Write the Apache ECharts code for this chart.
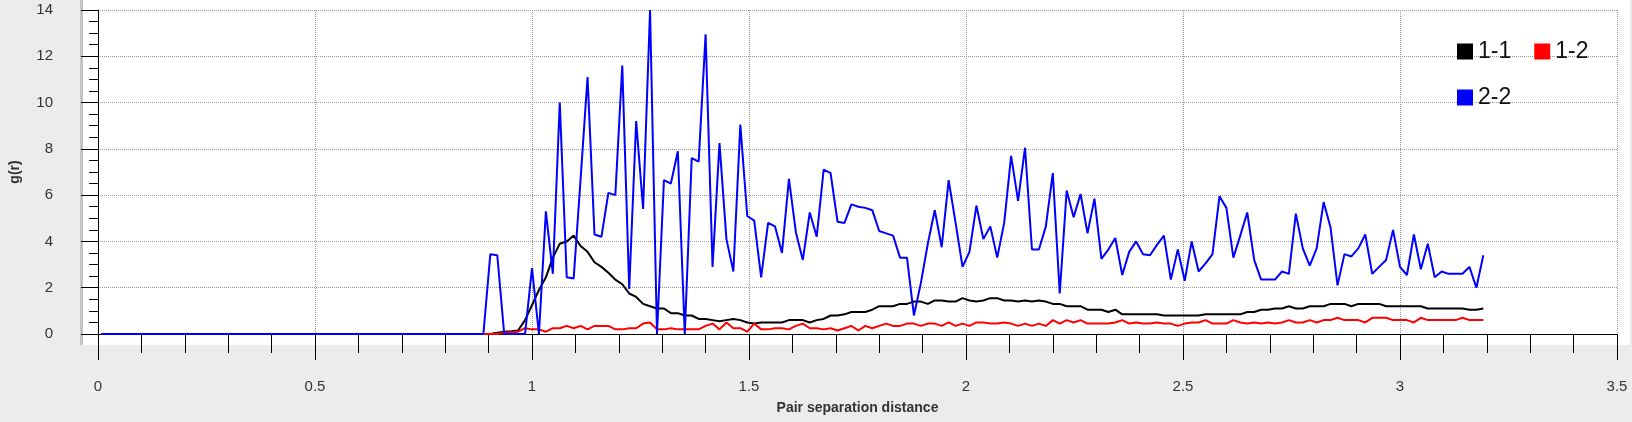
<!DOCTYPE html>
<html>
<head>
<meta charset="utf-8">
<script src="https://cdn.jsdelivr.net/npm/echarts@6/dist/echarts.min.js"></script>
<style>
  html, body { margin: 0; padding: 0; background: #ececec; }
  #chart { width: 1632px; height: 422px; }
</style>
</head>
<body>
<div id="chart"></div>
<script>
// g(r) histogram, 200 bins of width 0.016
const binWidth = 0.016;

const g11 = [
  0,0,0,0,0, 0,0,0,0,0,
  0,0,0,0,0, 0,0,0,0,0,
  0,0,0,0,0, 0,0,0,0,0,
  0,0,0,0,0, 0,0,0,0,0,
  0,0,0,0,0, 0,0,0,0,0,
  0,0,0,0,0, 0,0,0.05,0.1,0.12,
  0.15,0.6,1.25,1.9,2.45, 3.3,3.9,4.0,4.25,3.8,
  3.55,3.1,2.9,2.65,2.35, 2.15,1.75,1.6,1.3,1.2,
  1.1,1.1,0.9,0.9,0.8, 0.8,0.65,0.65,0.6,0.55,
  0.6,0.65,0.6,0.5,0.45, 0.5,0.5,0.5,0.5,0.6,
  0.6,0.6,0.5,0.6,0.65, 0.8,0.8,0.85,0.95,0.95,
  0.95,1.05,1.2,1.2,1.2, 1.3,1.3,1.4,1.4,1.3,
  1.45,1.45,1.4,1.4,1.55, 1.45,1.4,1.45,1.55,1.55,
  1.45,1.45,1.4,1.45,1.4, 1.45,1.4,1.3,1.3,1.2,
  1.2,1.2,1.05,1.05,1.05, 0.95,1.05,0.85,0.85,0.85,
  0.85,0.85,0.85,0.8,0.8, 0.8,0.8,0.8,0.8,0.85,
  0.85,0.85,0.85,0.85,0.85, 0.95,0.95,1.05,1.05,1.1,
  1.1,1.2,1.1,1.1,1.2, 1.2,1.2,1.3,1.3,1.3,
  1.2,1.3,1.3,1.3,1.3, 1.2,1.2,1.2,1.2,1.2,
  1.2,1.1,1.1,1.1,1.1, 1.1,1.1,1.05,1.05,1.1
];

const g12 = [
  0,0,0,0,0, 0,0,0,0,0,
  0,0,0,0,0, 0,0,0,0,0,
  0,0,0,0,0, 0,0,0,0,0,
  0,0,0,0,0, 0,0,0,0,0,
  0,0,0,0,0, 0,0,0,0,0,
  0,0,0,0,0, 0,0,0,0.05,0.08,
  0.1,0.25,0.2,0.2,0.1, 0.25,0.25,0.35,0.25,0.35,
  0.2,0.35,0.35,0.35,0.2, 0.2,0.25,0.25,0.45,0.5,
  0.2,0.2,0.25,0.2,0.2, 0.2,0.2,0.35,0.45,0.2,
  0.5,0.25,0.25,0.1,0.45, 0.2,0.2,0.25,0.25,0.2,
  0.35,0.45,0.25,0.25,0.2, 0.25,0.15,0.25,0.35,0.15,
  0.35,0.25,0.35,0.45,0.35, 0.35,0.45,0.45,0.35,0.45,
  0.45,0.35,0.5,0.35,0.45, 0.35,0.5,0.5,0.45,0.45,
  0.5,0.45,0.35,0.45,0.35, 0.45,0.35,0.6,0.45,0.6,
  0.5,0.6,0.45,0.45,0.45, 0.45,0.5,0.6,0.45,0.5,
  0.45,0.45,0.5,0.45,0.45, 0.35,0.45,0.5,0.5,0.6,
  0.45,0.45,0.45,0.6,0.5, 0.45,0.5,0.45,0.5,0.45,
  0.5,0.6,0.5,0.5,0.6, 0.5,0.6,0.6,0.7,0.6,
  0.6,0.6,0.5,0.7,0.7, 0.7,0.6,0.6,0.6,0.5,
  0.7,0.6,0.6,0.6,0.6, 0.6,0.7,0.6,0.6,0.6
];

const g22 = [
  0,0,0,0,0, 0,0,0,0,0,
  0,0,0,0,0, 0,0,0,0,0,
  0,0,0,0,0, 0,0,0,0,0,
  0,0,0,0,0, 0,0,0,0,0,
  0,0,0,0,0, 0,0,0,0,0,
  0,0,0,0,0, 0,3.45,3.4,0,0,
  0,0,2.85,0,5.3, 2.6,10.0,2.45,2.4,6.7,
  11.1,4.3,4.2,6.1,6.0, 11.6,1.95,9.2,5.4,14.0,
  0,6.65,6.5,7.9,0, 7.6,7.45,12.95,2.9,8.25,
  4.1,2.7,9.05,5.1,4.9, 2.45,4.8,4.65,3.5,6.7,
  4.4,3.2,5.25,4.2,7.1, 6.95,4.85,4.8,5.6,5.5,
  5.45,5.35,4.45,4.35,4.25, 3.3,3.3,0.8,2.2,3.9,
  5.35,3.75,6.65,4.8,2.9, 3.55,5.55,4.1,4.65,3.3,
  4.8,7.7,5.75,8.05,3.65, 3.65,4.65,6.95,1.75,6.2,
  5.05,6.05,4.35,5.85,3.25, 3.65,4.15,2.55,3.55,4.0,
  3.45,3.4,3.85,4.25,2.35, 3.65,2.3,4.0,2.7,3.05,
  3.45,5.95,5.45,3.3,4.25, 5.25,3.2,2.35,2.35,2.35,
  2.7,2.6,5.2,3.7,2.95, 3.7,5.7,4.6,2.1,3.45,
  3.35,3.7,4.3,2.6,2.9, 3.2,4.5,2.9,2.55,4.3,
  2.8,3.9,2.45,2.7,2.6, 2.6,2.6,2.9,2.0,3.4
];

// bin centres
const r = g22.map((_, i) => +(binWidth * (i + 0.5)).toFixed(4));
const pairs = (vals) => vals.map((v, i) => [r[i], v]);

const font = '"Liberation Sans", Arial, sans-serif';
const chart = echarts.init(document.getElementById('chart'));

const lineSeries = (name, color, vals) => ({
  name, type: 'line', data: pairs(vals),
  showSymbol: false, symbol: 'none', animation: false,
  lineStyle: { color, width: 2 }, itemStyle: { color }
});

chart.setOption({
  backgroundColor: '#ececec',
  animation: false,
  graphic: [
    { type: 'rect', left: 83, top: 0, z: -10, shape: { width: 1547, height: 345 }, style: { fill: '#fff' } },
    { type: 'rect', left: 80, top: 0, z: -10, shape: { width: 3, height: 345 }, style: { fill: '#c4c4c4' } }
  ],
  grid: { left: 93, right: 15, top: 10, bottom: 88 },
  legend: {
    left: 1452, top: 35, width: 175,
    itemWidth: 16, itemHeight: 16, itemGap: 23, icon: 'rect',
    textStyle: { fontFamily: font, fontSize: 23, color: '#111' },
    data: ['1-1', '1-2', '2-2']
  },
  xAxis: {
    type: 'value', min: 0, max: 3.5, interval: 0.5,
    offset: 9,
    name: 'Pair separation distance', nameLocation: 'middle', nameGap: 58,
    nameTextStyle: { fontFamily: font, fontSize: 14, fontWeight: 'bold', color: '#333' },
    axisLine: { show: true, lineStyle: { color: '#000' } },
    axisTick: { length: 26, lineStyle: { color: '#000' } },
    minorTick: { show: true, splitNumber: 5, length: 19, lineStyle: { color: '#000' } },
    axisLabel: { margin: 36, fontFamily: font, fontSize: 15, color: '#333' },
    splitLine: { show: true, lineStyle: { color: '#999', type: 'dotted' } }
  },
  yAxis: {
    type: 'value', min: 0, max: 14, interval: 2,
    offset: 18,
    name: 'g(r)', nameLocation: 'middle', nameGap: 58, nameRotate: 90,
    nameTextStyle: { fontFamily: font, fontSize: 14, fontWeight: 'bold', color: '#333' },
    axisLine: { show: true, lineStyle: { color: '#000' } },
    axisTick: { length: 17, lineStyle: { color: '#000' } },
    minorTick: { show: true, splitNumber: 4, length: 9, lineStyle: { color: '#000' } },
    axisLabel: { margin: 27, fontFamily: font, fontSize: 15, color: '#333' },
    splitLine: { show: true, lineStyle: { color: '#999', type: 'dotted' } }
  },
  series: [
    lineSeries('1-1', '#000000', g11),
    lineSeries('1-2', '#ff0000', g12),
    lineSeries('2-2', '#0000ff', g22)
  ]
});

window.addEventListener('resize', () => chart.resize());
</script>
</body>
</html>
